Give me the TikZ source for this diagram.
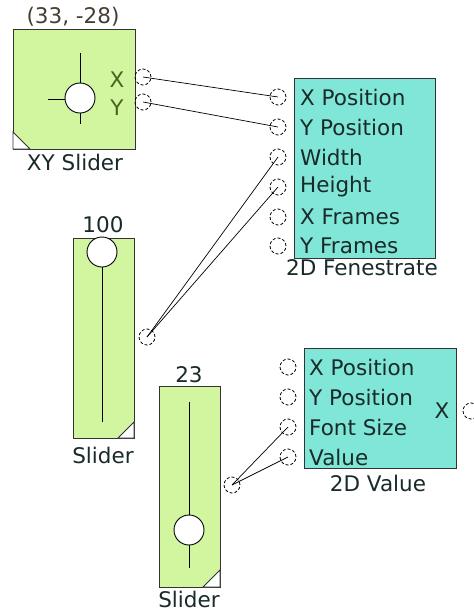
\documentclass[tikz,border=0pt]{standalone}
\usepackage{fontspec}
\setmainfont{DejaVu Sans}
\definecolor{sgreen}{RGB}{210,245,160}
\definecolor{scyan}{RGB}{128,230,215}
\definecolor{txt}{RGB}{25,42,42}
\definecolor{olive}{RGB}{70,100,30}
\definecolor{valtxt}{RGB}{70,62,50}
\begin{document}
\begin{tikzpicture}[x=1pt,y=-1pt,
 lbl/.style={font=\fontsize{21.5}{25}\selectfont, text=txt, inner sep=0pt},
 port/.style={circle, draw=black, densely dashed, minimum size=16pt, inner sep=0pt, line width=0.8pt},
 gbox/.style={draw=black!80, fill=sgreen, line width=0.9pt, anchor=north west, inner sep=0pt},
 cbox/.style={draw=black!80, fill=scyan, line width=0.9pt, anchor=north west, inner sep=0pt},
 wire/.style={draw=black, line width=0.7pt},
 knob/.style={circle, draw=black, fill=white, line width=0.9pt, inner sep=0pt, minimum size=30pt},
 corner/.style={draw=black!80, fill=white, line width=0.9pt}]
\useasboundingbox[fill=white] (0,0) rectangle (474,611);

% ---------- XY Slider ----------
\node[gbox, minimum width=122pt, minimum height=120pt] (xy) at (13,29) {};
\draw[corner] (13,132) -- (30,149) -- (13,149) -- cycle;
\draw[line width=1pt] (80,53) -- (80,124);
\draw[line width=1pt] (48,99) -- (80,99);
\node[knob] (xyknob) at (80,98) {};
\node[lbl, text=valtxt] (xyval) at (73,17) {(33, -28)};
\node[lbl, text=olive] (xyX) at (117,80) {X};
\node[lbl, text=olive] (xyY) at (117,108) {Y};
\node[lbl] (xyname) at (75,162) {XY Slider};
\node[port] (xyXo) at (143,77) {};
\node[port] (xyYo) at (143,102) {};

% ---------- 2D Fenestrate ----------
\node[cbox, minimum width=141pt, minimum height=180pt] (fen) at (294,78) {};
\foreach \n/\t/\y in {fx/X Position/97, fy/Y Position/127, fw/Width/157, fh/Height/187, fxf/X Frames/217, fyf/Y Frames/246}{
  \node[lbl, anchor=west] (\n t) at (300,\y) {\t};
  \node[port] (\n) at (278,\y) {};
}
\node[lbl] (fenname) at (362,268) {2D Fenestrate};

% ---------- Slider 100 ----------
\node[gbox, minimum width=61pt, minimum height=200pt] (s1) at (73,238) {};
\draw[corner] (118,438) -- (134,422) -- (134,438) -- cycle;
\draw[line width=1pt] (102,252) -- (102,422);
\node[knob] (s1knob) at (102,252) {};
\node[lbl] (s1val) at (103,225) {100};
\node[lbl] (s1name) at (103,455) {Slider};
\node[port] (s1o) at (147,337) {};

% ---------- Slider 23 ----------
\node[gbox, minimum width=61pt, minimum height=201pt] (s2) at (159,386) {};
\draw[corner] (203,587) -- (220,570) -- (220,587) -- cycle;
\draw[line width=1pt] (189,402) -- (189,568);
\node[knob] (s2knob) at (189,530) {};
\node[lbl] (s2val) at (189,375) {23};
\node[lbl] (s2name) at (189,599) {Slider};
\node[port] (s2o) at (232,485) {};

% ---------- 2D Value ----------
\node[cbox, minimum width=152pt, minimum height=120pt] (val) at (304,348) {};
\foreach \n/\t/\y in {vx/X Position/367, vy/Y Position/397, vf/Font Size/427, vv/Value/457}{
  \node[lbl, anchor=west] (\n t) at (309,\y) {\t};
  \node[port] (\n) at (288,\y) {};
}
\node[lbl] (vX) at (442,411) {X};
\node[port] (vo) at (471,411) {};
\node[lbl] (valname) at (378,483) {2D Value};

% ---------- wires ----------
\draw[wire] (xyXo.center) -- (fx.center);
\draw[wire] (xyYo.center) -- (fy.center);
\draw[wire] (s1o.center) -- (fw.center);
\draw[wire] (s1o.center) -- (fh.center);
\draw[wire] (s2o.center) -- (vf.center);
\draw[wire] (s2o.center) -- (vv.center);
\end{tikzpicture}
\end{document}
